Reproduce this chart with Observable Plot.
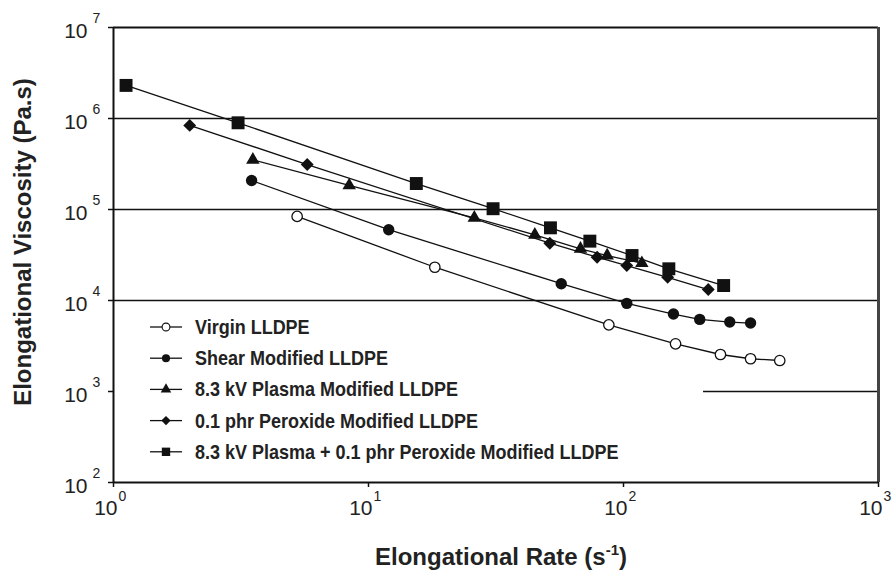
<!DOCTYPE html>
<html>
<head>
<meta charset="utf-8">
<script src="https://cdn.jsdelivr.net/npm/d3@7"></script>
<script src="https://cdn.jsdelivr.net/npm/@observablehq/plot@0.6"></script>
<style>
  html, body { margin: 0; padding: 0; background: #fff; }
  #chart svg { display: block; }
</style>
</head>
<body>
<div id="chart"></div>
<script>
// Series names, in legend order
const seriesNames = [
  "Virgin LLDPE",
  "Shear Modified LLDPE",
  "8.3 kV Plasma Modified LLDPE",
  "0.1 phr Peroxide Modified LLDPE",
  "8.3 kV Plasma + 0.1 phr Peroxide Modified LLDPE"
];

// Elongational rate (1/s) and elongational viscosity (Pa.s) for each material
const virginRate = [5.25, 18.2, 87.6, 160, 240, 315, 410];
const virginVisc = [8.4e4, 2.32e4, 5.4e3, 3.34e3, 2.55e3, 2.29e3, 2.19e3];

const shearRate = [3.48, 12.0, 57.0, 103, 157, 199, 261, 315];
const shearVisc = [2.08e5, 6.0e4, 1.53e4, 9.3e3, 7.1e3, 6.2e3, 5.8e3, 5.65e3];

const plasmaRate = [3.52, 8.4, 26.0, 44.9, 67.8, 86.3, 118];
const plasmaVisc = [3.52e5, 1.84e5, 8.1e4, 5.27e4, 3.7e4, 3.12e4, 2.57e4];

const peroxideRate = [1.99, 5.75, 51.4, 78.8, 103, 149, 215];
const peroxideVisc = [8.4e5, 3.12e5, 4.26e4, 2.99e4, 2.42e4, 1.8e4, 1.32e4];

const comboRate = [1.12, 3.08, 15.4, 30.8, 51.7, 73.8, 108, 150.6, 247];
const comboVisc = [2.31e6, 8.97e5, 1.93e5, 1.02e5, 6.29e4, 4.49e4, 3.12e4, 2.23e4, 1.46e4];

// Axis ticks (decades)
const xTicks = [1, 10, 100, 1000];
const yTicks = [1e2, 1e3, 1e4, 1e5, 1e6, 1e7];
const yGrid = [1e4, 1e5, 1e6];

// Build one long table for the library
const rates = [virginRate, shearRate, plasmaRate, peroxideRate, comboRate];
const viscs = [virginVisc, shearVisc, plasmaVisc, peroxideVisc, comboVisc];
const table = seriesNames.flatMap((name, i) =>
  rates[i].map((rate, j) => ({series: name, rate, visc: viscs[i][j]}))
);

// Marker style per series
const styles = [
  {symbol: "circle", fill: "white", stroke: "#111", r: 5.2, legendSize: 48},
  {symbol: "circle", fill: "#111", stroke: "none", r: 5.7, legendSize: 52},
  {symbol: "triangle", fill: "#111", stroke: "none", r: 5.0, legendSize: 48},
  {symbol: "diamond2", fill: "#111", stroke: "none", r: 5.8, legendSize: 55},
  {symbol: "square", fill: "#111", stroke: "none", r: 7.3, legendSize: 70}
];

const ink = "#111";
const seriesMarks = seriesNames.flatMap((name, i) => {
  const rows = table.filter(d => d.series === name);
  const s = styles[i];
  return [
    Plot.line(rows, {x: "rate", y: "visc", stroke: ink, strokeWidth: 1.3}),
    Plot.dot(rows, {x: "rate", y: "visc", symbol: () => s.symbol, r: s.r,
      fill: s.fill, stroke: s.stroke, strokeWidth: 1.3})
  ];
});

const chart = Plot.plot({
  width: 892,
  height: 572,
  marginLeft: 113,
  marginRight: 14,
  marginTop: 27,
  marginBottom: 90,
  style: {fontFamily: "'Liberation Sans', Arial, Helvetica, sans-serif", background: "#fff", color: ink},
  x: {type: "log", domain: [1, 1000]},
  y: {type: "log", domain: [100, 1e7]},
  symbol: {type: "identity"},
  marks: [
    // horizontal grid lines
    Plot.ruleY(yGrid, {stroke: ink, strokeWidth: 1.4}),
    Plot.ruleY([1e3], {x1: 206, x2: 1000, stroke: ink, strokeWidth: 1.4}),
    // plot frame
    Plot.ruleY([1e7], {stroke: ink, strokeWidth: 2}),
    Plot.ruleX([1000], {stroke: "#444", strokeWidth: 3}),
    Plot.ruleX([1], {stroke: ink, strokeWidth: 2}),
    Plot.ruleY([100], {stroke: ink, strokeWidth: 2}),
    // tick marks
    Plot.axisX({ticks: xTicks, tickSize: 5, tickFormat: () => "", label: null, strokeWidth: 1.5}),
    Plot.axisY({ticks: yTicks, tickSize: 5, tickFormat: () => "", label: null, strokeWidth: 1.5}),
    // tick labels as 10 with a raised exponent
    Plot.text(yTicks, {y: d => d, frameAnchor: "left", text: () => "10", textAnchor: "end",
      dx: -26, dy: 4, fontSize: 21, fill: "#222"}),
    Plot.text(yTicks, {y: d => d, frameAnchor: "left", text: d => String(Math.round(Math.log10(d))),
      textAnchor: "start", dx: -21, dy: -9, fontSize: 14, fill: "#222"}),
    Plot.text(xTicks, {x: d => d, frameAnchor: "bottom", text: () => "10", textAnchor: "end",
      dx: 4, dy: 32, fontSize: 21, fill: "#222"}),
    Plot.text(xTicks, {x: d => d, frameAnchor: "bottom", text: d => String(Math.round(Math.log10(d))),
      textAnchor: "start", dx: 5, dy: 18, fontSize: 14, fill: "#222"}),
    ...seriesMarks
  ]
});

document.getElementById("chart").appendChild(chart);

// Axis titles
const svg = d3.select(chart);
svg.append("text")
  .attr("transform", "translate(31,242) rotate(-90)")
  .attr("text-anchor", "middle")
  .attr("font-weight", "bold")
  .attr("font-size", 24)
  .attr("fill", "#222")
  .text("Elongational Viscosity (Pa.s)");

const xTitle = svg.append("text")
  .attr("x", 375)
  .attr("y", 565)
  .attr("text-anchor", "start")
  .attr("font-weight", "bold")
  .attr("font-size", 24)
  .attr("fill", "#222");
xTitle.append("tspan").text("Elongational Rate (s");
xTitle.append("tspan").attr("dy", -10).attr("font-size", 15).text("-1");
xTitle.append("tspan").attr("dy", 10).text(")");

// Legend inside the plot area (slightly condensed bold type)
const legend = svg.append("g").attr("text-anchor", "start");
const symbolTypes = {circle: d3.symbolCircle, triangle: d3.symbolTriangle, diamond2: d3.symbolDiamond2, square: d3.symbolSquare};
seriesNames.forEach((name, i) => {
  const s = styles[i];
  const cy = 327 + i * 31.2;
  legend.append("line")
    .attr("x1", 150).attr("x2", 182).attr("y1", cy).attr("y2", cy)
    .attr("stroke", ink).attr("stroke-width", 1.3);
  legend.append("path")
    .attr("transform", `translate(166,${cy})`)
    .attr("d", d3.symbol(symbolTypes[s.symbol], s.legendSize)())
    .attr("fill", s.fill)
    .attr("stroke", s.stroke)
    .attr("stroke-width", 1.1);
  legend.append("text")
    .attr("transform", `translate(195,${cy + 7}) scale(0.9,1)`)
    .attr("text-anchor", "start")
    .attr("font-weight", "bold")
    .attr("font-size", 20)
    .attr("fill", "#222")
    .text(name);
});
</script>
</body>
</html>
